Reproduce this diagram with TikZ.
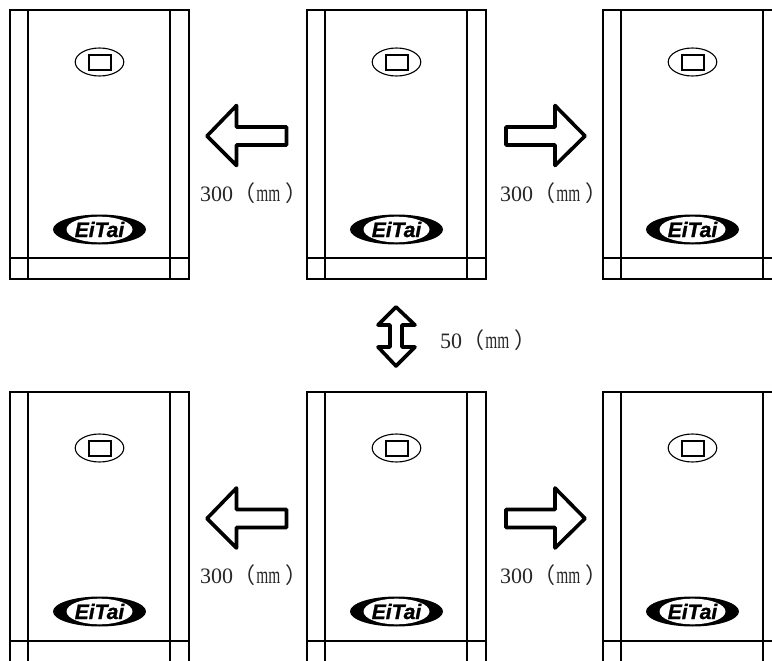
\documentclass[tikz,border=0pt]{standalone}
\usepackage{fontspec}
\setmainfont{Liberation Serif}
\newfontfamily\logofont[FakeBold=1.2]{Liberation Sans}
\newfontfamily\cjk{Noto Sans CJK SC}
\newcommand{\mmnarrow}{\scalebox{0.7}[1.1]{mm}}
\newcommand{\dimtext}[1]{#1{\cjk （}\hspace{.05em}\mmnarrow\hspace{.25em}{\cjk ）}}
\tikzset{
  frame/.style={line width=2pt,draw=black},
  bigarrow/.style={line width=3.6pt,draw=black,fill=white,line join=round},
  dim/.style={font=\fontsize{22}{24}\selectfont,text=black!85,inner sep=0pt,anchor=base west},
  logotext/.style={font=\logofont\bfseries\itshape\fontsize{21}{22}\selectfont,text=black,inner sep=0pt},
  pics/panel/.style n args={3}{code={
    \draw[frame] (0,0) rectangle (179,#1);
    \draw[frame] (18,0) -- (18,#1) (160,0) -- (160,#1);
    \draw[frame] (0,#2) -- (179,#2);
    \draw[line width=1.1pt,draw=black] (89.5,#3) ellipse (24.3 and 14);
    \draw[line width=1.5pt,draw=black] (79,#3-7) rectangle (101,#3+8);
  }},
}
\newcommand{\logoat}[2]{%
  \fill[black] (#1,#2) ellipse (46.5 and 15);
  \fill[white] (#1,#2) ellipse (33 and 12.8);
  \node[logotext] (logo#1#2) at (#1,#2) {EiTai};
}
\begin{document}
\begin{tikzpicture}[x=1pt,y=-1pt]
\useasboundingbox (0,0) rectangle (772,661);
\clip (0,0) rectangle (772,661);
% top row
\pic at (10,10) {panel={269}{248}{52}};
\pic at (307,10) {panel={269}{248}{52}};
\pic at (603,10) {panel={269}{248}{52}};
\logoat{99.5}{229.5}\logoat{396.5}{229.5}\logoat{692.5}{229.5}
% bottom row
\pic at (10,392) {panel={280}{249}{56}};
\pic at (307,392) {panel={280}{249}{56}};
\pic at (603,392) {panel={280}{249}{56}};
\logoat{99.5}{611.5}\logoat{396.5}{611.5}\logoat{692.5}{611.5}
% arrows
\foreach \dy/\bl/\nm in {0/201/a,382.5/583.5/b}{
  \begin{scope}[yshift=-\dy pt]
    \draw[bigarrow] (207,136) -- (236.5,105.5) -- (236.5,127) -- (286.5,127) -- (286.5,145) -- (236.5,145) -- (236.5,165.5) -- cycle;
    \draw[bigarrow] (585,136) -- (555,105.5) -- (555,127) -- (506,127) -- (506,145) -- (555,145) -- (555,165.5) -- cycle;
  \end{scope}
  \node[dim] (left\nm) at (200,\bl) {\dimtext{300}};
  \node[dim] (right\nm) at (500,\bl) {\dimtext{300}};
}
\draw[bigarrow] (396,307) -- (415,325) -- (402,325) -- (402,347) -- (415,347) -- (396,366) -- (378,347) -- (390,347) -- (390,325) -- (378,325) -- cycle;
\node[dim] (gap) at (440,348) {\dimtext{50}};
\end{tikzpicture}
\end{document}
